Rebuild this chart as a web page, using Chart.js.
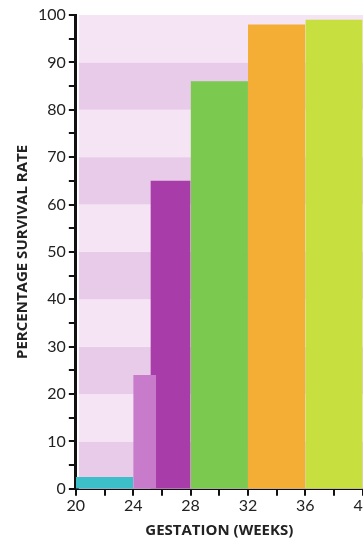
<!DOCTYPE html>
<html>
<head>
<meta charset="utf-8">
<script src="https://cdn.jsdelivr.net/npm/chart.js@4"></script>
<style>
  html, body { margin: 0; padding: 0; background: #fff; overflow: hidden; }
  #wrap { position: relative; width: 372px; height: 540px; }
</style>
</head>
<body>
<div id="wrap"><canvas id="myChart"></canvas></div>
<script>
// survival by gestation week
const barStart = [20, 24, 25.2, 28, 32, 36];
const barEnd = [24, 25.6, 28, 32, 36, 40];
const survival = [2.5, 24, 65, 86, 98, 99];
const barColors = ['#3cbfc9', '#c97bcb', '#a83ca8', '#7bc94f', '#f5ae35', '#c8e03f'];

// background bands
const bandFrom = [0, 10, 20, 30, 40, 50, 60, 70, 80, 90];
const bandTo = [10, 20, 30, 40, 50, 60, 70, 80, 90, 100];
const bandColors = ['#e8cbe8', '#f4e4f4', '#e8cbe8', '#f4e4f4', '#e8cbe8', '#f4e4f4', '#e8cbe8', '#f4e4f4', '#e8cbe8', '#f4e4f4'];

const datasets = survival.map((v, i) => ({
  data: [{ x: barStart[i], y: v }, { x: barEnd[i], y: v }],
  backgroundColor: barColors[i],
  borderWidth: 0,
  pointRadius: 0,
  fill: 'origin'
}));

const bandsPlugin = {
  id: 'bands',
  beforeDatasetsDraw(chart) {
    const ctx = chart.ctx;
    const x = chart.scales.x;
    const y = chart.scales.y;
    ctx.save();
    bandFrom.forEach((b, i) => {
      const top = y.getPixelForValue(bandTo[i]);
      const bottom = y.getPixelForValue(b);
      ctx.fillStyle = bandColors[i];
      ctx.fillRect(x.left + 3, top, x.right - x.left, bottom - top);
    });
    ctx.restore();
  }
};

const tickFont = { family: 'Lato', size: 16 };
const titleFont = { family: 'Open Sans', size: 15, weight: 'bold' };

const config = {
  type: 'line',
  data: { datasets },
  options: {
    responsive: true,
    maintainAspectRatio: false,
    animation: false,
    layout: { padding: { top: 15, left: 14, right: 0, bottom: 0 } },
    plugins: { legend: { display: false }, tooltip: { enabled: false } },
    scales: {
      x: {
        type: 'linear',
        min: 20,
        max: 40,
        border: { color: '#111', width: 3 },
        grid: { drawOnChartArea: false, color: '#111', lineWidth: 2, tickLength: 7 },
        ticks: {
          stepSize: 2,
          color: '#222',
          font: tickFont,
          padding: 0,
          maxRotation: 0,
          callback: v => v % 4 === 0 ? v : ''
        },
        title: { display: true, text: 'GESTATION (WEEKS)', color: '#222', font: titleFont, padding: { top: 7, bottom: 0 } }
      },
      y: {
        min: 0,
        max: 100,
        border: { color: '#111', width: 3 },
        grid: { drawOnChartArea: false, color: '#111', lineWidth: 2, tickLength: 7 },
        ticks: {
          stepSize: 5,
          color: '#222',
          font: tickFont,
          padding: 3,
          callback: v => v % 10 === 0 ? v : ''
        },
        title: { display: true, text: 'PERCENTAGE SURVIVAL RATE', color: '#222', font: titleFont, padding: { top: 0, bottom: 3 } }
      }
    }
  },
  plugins: [bandsPlugin]
};

const myChart = new Chart(document.getElementById('myChart'), config);
</script>
</body>
</html>
